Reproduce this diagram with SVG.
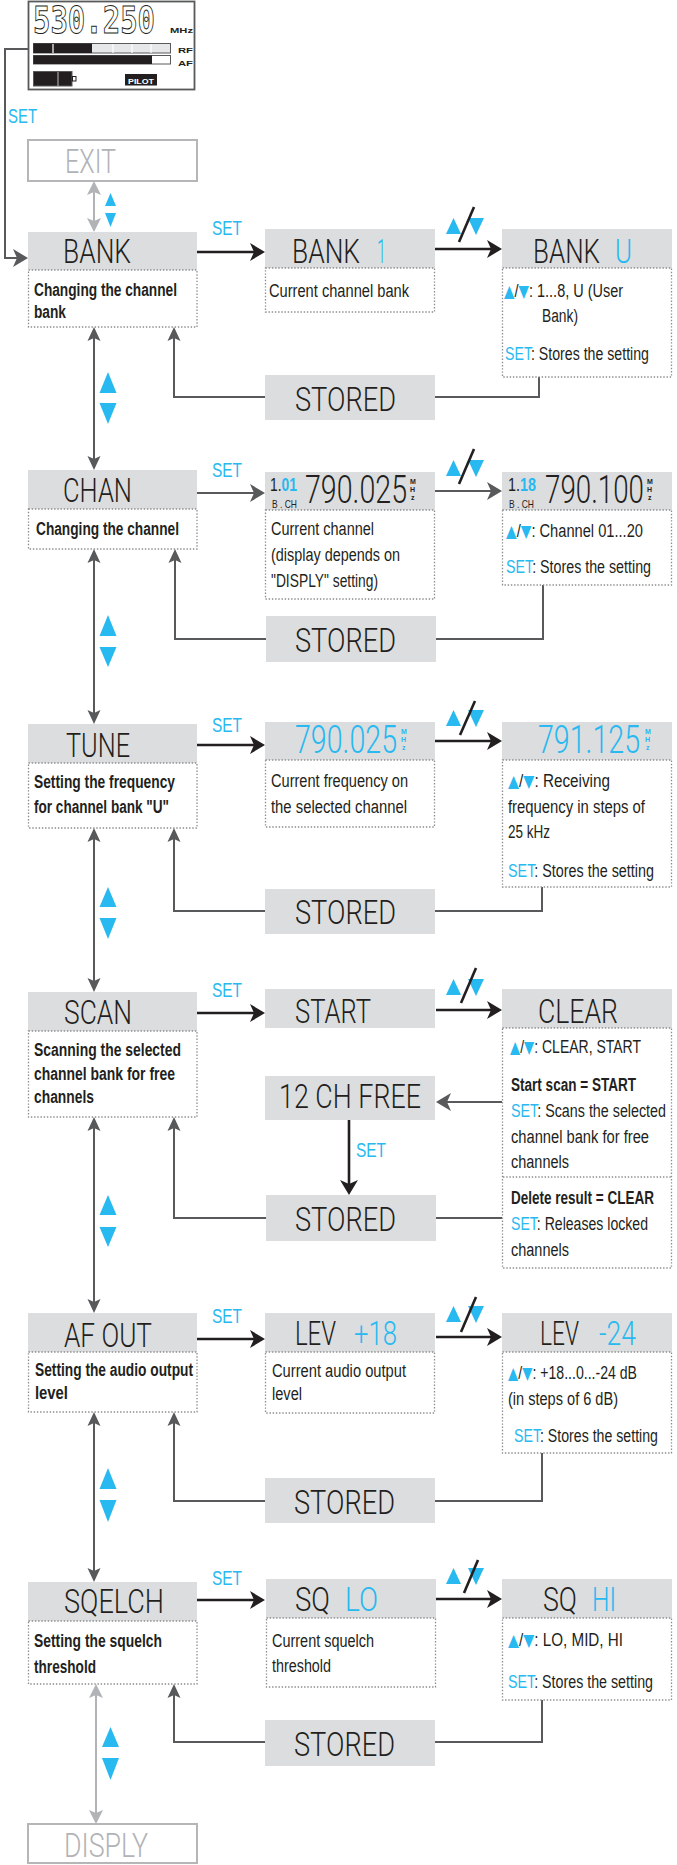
<svg xmlns="http://www.w3.org/2000/svg" width="677" height="1865" viewBox="0 0 677 1865">
<style>
.hdr{fill:#dcdddf}
.out{fill:#fff;stroke:#b5b6b8;stroke-width:2}
.desc{fill:#fff;stroke:#8a8c8e;stroke-width:1.3;stroke-dasharray:1.4 1.8}
.big{font-family:Roboto,'Liberation Sans',Arial,sans-serif;font-weight:300;font-size:34px;fill:#231f20}
.num{font-family:Roboto,'Liberation Sans',Arial,sans-serif;font-weight:300;font-size:39px;fill:#231f20}
.gr{fill:#b1b3b6}
.d{font-family:'Liberation Sans',Arial,sans-serif;font-size:18px;fill:#231f20}
.b{font-weight:bold}
.bl{fill:#27b9f0}
.t{fill:#27b9f0;font-family:'DejaVu Sans',sans-serif;font-size:17px}
.set{font-family:'Liberation Sans',Arial,sans-serif;font-size:20px;fill:#27b9f0}
.tiny{font-family:'Liberation Sans',Arial,sans-serif;font-size:7px;font-weight:bold}
.sm{font-family:'Liberation Sans',Arial,sans-serif;font-size:11px;fill:#231f20}
.con{fill:none;stroke:#58595b;stroke-width:2}
.blk{fill:none;stroke:#231f20;stroke-width:2.6}
.lt{fill:none;stroke:#b1b3b6;stroke-width:2}
.tri{fill:#27b9f0}
</style>
<defs>
<marker id="aBk" viewBox="-14 -10 18 20" markerWidth="18" markerHeight="20" refX="0" refY="0" orient="auto-start-reverse" markerUnits="userSpaceOnUse"><path d="M3,0 L-12,-9 L-8,0 L-12,9 Z" fill="#231f20"/></marker>
<marker id="aBg" viewBox="-14 -10 18 20" markerWidth="18" markerHeight="20" refX="0" refY="0" orient="auto-start-reverse" markerUnits="userSpaceOnUse"><path d="M3,0 L-12,-9 L-8,0 L-12,9 Z" fill="#58595b"/></marker>
<marker id="aSm" viewBox="-14 -8 18 16" markerWidth="18" markerHeight="16" refX="0" refY="0" orient="auto-start-reverse" markerUnits="userSpaceOnUse"><path d="M3,0 L-11,-6.5 L-8,0 L-11,6.5 Z" fill="#58595b"/></marker>
<marker id="aLt" viewBox="-14 -8 18 16" markerWidth="18" markerHeight="16" refX="0" refY="0" orient="auto-start-reverse" markerUnits="userSpaceOnUse"><path d="M3,0 L-11,-7 L-8,0 L-11,7 Z" fill="#b1b3b6"/></marker>
<g id="ud"><polygon points="446,-15 461,-15 453.5,-31"/><polygon points="468,-31 484,-31 476,-14"/></g>
</defs>

<!-- LCD display -->
<g id="lcd">
<rect x="28.5" y="1.5" width="166" height="88" fill="#fff" stroke="#58595b" stroke-width="1.8"/>
<text x="33" y="33" font-family="'DejaVu Sans Mono',monospace" font-weight="bold" font-size="38" fill="#fff" stroke="#231f20" stroke-width="1" textLength="122" lengthAdjust="spacingAndGlyphs">530.250</text>
<text class="tiny" x="170" y="33" font-size="11" fill="#231f20" textLength="23" lengthAdjust="spacingAndGlyphs">MHz</text>
<rect x="33.5" y="43.5" width="137" height="9.5" fill="#e6e7e8" stroke="#58595b" stroke-width="1"/>
<rect x="33.5" y="43.5" width="58.5" height="9.5" fill="#231f20"/>
<path d="M53,44 V53 M113,44 V53 M132,44 V53 M151,44 V53" stroke="#fff" stroke-width="1.2"/>
<text class="tiny" x="178" y="53" font-size="13" fill="#231f20" textLength="15" lengthAdjust="spacingAndGlyphs">RF</text>
<rect x="33.5" y="55.5" width="137" height="8.5" fill="#fff" stroke="#58595b" stroke-width="1"/>
<rect x="33.5" y="55.5" width="118.5" height="8.5" fill="#231f20"/>
<text class="tiny" x="178" y="66" font-size="13" fill="#231f20" textLength="15" lengthAdjust="spacingAndGlyphs">AF</text>
<rect x="33.5" y="71.5" width="38.5" height="14.5" fill="#231f20" stroke="#58595b" stroke-width="1"/>
<path d="M58,72 V86" stroke="#bcbec0" stroke-width="1"/>
<rect x="72.5" y="76.5" width="3.5" height="4.5" fill="#fff" stroke="#231f20" stroke-width="1"/>
<rect x="125" y="74" width="32" height="11.5" fill="#231f20"/>
<text class="tiny" x="128" y="83.5" font-size="9" fill="#fff" textLength="26" lengthAdjust="spacingAndGlyphs">PILOT</text>
</g>

<!-- Connectors -->
<g id="connectors">
<path class="con" d="M28,49 H5 V258 H25" marker-end="url(#aBg)"/>
<text class="set" x="8" y="123" textLength="29" lengthAdjust="spacingAndGlyphs">SET</text>
<path class="lt" d="M94,184 V229" marker-start="url(#aLt)" marker-end="url(#aLt)"/>
<polygon class="tri" points="105,206 116,206 110.5,193"/>
<polygon class="tri" points="105,213 116,213 110.5,227"/>
<path class="con" d="M94,330 V467" marker-start="url(#aSm)" marker-end="url(#aSm)"/>
<polygon class="tri" points="99.5,393 116.5,393 108,372"/>
<polygon class="tri" points="99.5,403 116.5,403 108,424"/>
<path class="con" d="M94,552 V721" marker-start="url(#aSm)" marker-end="url(#aSm)"/>
<polygon class="tri" points="99.5,636 116.5,636 108,615"/>
<polygon class="tri" points="99.5,647 116.5,647 108,667"/>
<path class="con" d="M94,831 V989" marker-start="url(#aSm)" marker-end="url(#aSm)"/>
<polygon class="tri" points="99.5,907 116.5,907 108,887"/>
<polygon class="tri" points="99.5,918 116.5,918 108,939"/>
<path class="con" d="M94,1120 V1310" marker-start="url(#aSm)" marker-end="url(#aSm)"/>
<polygon class="tri" points="99.5,1215 116.5,1215 108,1195"/>
<polygon class="tri" points="99.5,1227 116.5,1227 108,1247"/>
<path class="con" d="M94,1415 V1579" marker-start="url(#aSm)" marker-end="url(#aSm)"/>
<polygon class="tri" points="99.5,1489 116.5,1489 108,1468"/>
<polygon class="tri" points="99.5,1500 116.5,1500 108,1522"/>
<path class="lt" d="M96,1687 V1821" marker-start="url(#aLt)" marker-end="url(#aLt)"/>
<polygon class="tri" points="102,1747 119,1747 110.5,1727"/>
<polygon class="tri" points="102,1758 119,1758 110.5,1780"/>

<!-- SET arrows -->
<path class="blk" d="M197,252 H262" marker-end="url(#aBk)"/>
<text class="set" x="212" y="235" textLength="30" lengthAdjust="spacingAndGlyphs">SET</text>
<path class="con" stroke-width="2.6" d="M197,493 H262" marker-end="url(#aBg)"/>
<text class="set" x="212" y="477" textLength="30" lengthAdjust="spacingAndGlyphs">SET</text>
<path class="blk" d="M197,745 H262" marker-end="url(#aBk)"/>
<text class="set" x="212" y="732" textLength="30" lengthAdjust="spacingAndGlyphs">SET</text>
<path class="blk" d="M197,1013 H262" marker-end="url(#aBk)"/>
<text class="set" x="212" y="997" textLength="30" lengthAdjust="spacingAndGlyphs">SET</text>
<path class="blk" d="M197,1339 H262" marker-end="url(#aBk)"/>
<text class="set" x="212" y="1323" textLength="30" lengthAdjust="spacingAndGlyphs">SET</text>
<path class="blk" d="M197,1600 H262" marker-end="url(#aBk)"/>
<text class="set" x="212" y="1585" textLength="30" lengthAdjust="spacingAndGlyphs">SET</text>

<!-- up/down arrows -->
<path class="blk" d="M435,249 H499" marker-end="url(#aBk)"/>
<use href="#ud" class="tri" transform="translate(0,249)"/>
<path class="blk" stroke-width="2" d="M459,242 L474,207"/>
<path class="con" stroke-width="2.6" d="M435,491 H499" marker-end="url(#aBg)"/>
<use href="#ud" class="tri" transform="translate(0,491)"/>
<path class="blk" stroke-width="2" d="M459,484 L474,449"/>
<path class="blk" d="M435,741 H499" marker-end="url(#aBk)"/>
<use href="#ud" class="tri" transform="translate(0,741)"/>
<path class="blk" stroke-width="2" d="M460,735 L475,701"/>
<path class="blk" d="M436,1010 H499" marker-end="url(#aBk)"/>
<use href="#ud" class="tri" transform="translate(0,1010)"/>
<path class="blk" stroke-width="2" d="M461,1003 L476,968"/>
<path class="blk" d="M436,1337 H499" marker-end="url(#aBk)"/>
<use href="#ud" class="tri" transform="translate(0,1337)"/>
<path class="blk" stroke-width="2" d="M461,1332 L476,1297"/>
<path class="blk" d="M436,1599 H499" marker-end="url(#aBk)"/>
<use href="#ud" class="tri" transform="translate(0,1599)"/>
<path class="blk" stroke-width="2" d="M464,1593 L478,1560"/>

<!-- return loops -->
<path class="con" d="M539,377 V397 H435 M265,397 H174 V330" marker-end="url(#aSm)"/>
<path class="con" d="M543,585 V639 H436 M266,639 H175 V552" marker-end="url(#aSm)"/>
<path class="con" d="M542,887 V911 H435 M265,911 H174 V831" marker-end="url(#aSm)"/>
<path class="con" d="M502,1218 H436 M266,1218 H174 V1120" marker-end="url(#aSm)"/>
<path class="con" d="M542,1453 V1501 H435 M265,1501 H174 V1415" marker-end="url(#aSm)"/>
<path class="con" d="M542,1700 V1742 H435 M265,1742 H174 V1687" marker-end="url(#aSm)"/>

<!-- scan extras -->
<path class="con" stroke="#6d6e71" d="M502,1102 H439" marker-end="url(#aBg)"/>
<path class="blk" d="M349,1120 V1192" marker-end="url(#aBk)"/>
<text class="set" x="356" y="1157" textLength="30" lengthAdjust="spacingAndGlyphs">SET</text>
</g>

<!-- EXIT -->
<g id="exit">
<rect class="out" x="28" y="140" width="169" height="41"/>
<text class="big gr" x="65" y="173" textLength="51" lengthAdjust="spacingAndGlyphs">EXIT</text>
</g>

<!-- BANK row -->
<g id="bank">
<rect class="hdr" x="28" y="232" width="169" height="38"/>
<rect class="desc" x="28.5" y="270" width="168.5" height="57"/>
<text class="big" x="63" y="263" textLength="68" lengthAdjust="spacingAndGlyphs">BANK</text>
<text class="d b" x="34" y="296" textLength="143" lengthAdjust="spacingAndGlyphs">Changing the channel</text>
<text class="d b" x="34" y="318" textLength="32" lengthAdjust="spacingAndGlyphs">bank</text>
</g>
<g id="bank1">
<rect class="hdr" x="265" y="229" width="170" height="39"/>
<rect class="desc" x="265.5" y="268" width="169" height="44"/>
<text class="big" y="263"><tspan x="292" textLength="68" lengthAdjust="spacingAndGlyphs">BANK</tspan><tspan class="bl" x="377" textLength="9" lengthAdjust="spacingAndGlyphs">1</tspan></text>
<text class="d" x="269" y="297" textLength="140" lengthAdjust="spacingAndGlyphs">Current channel bank</text>
</g>
<g id="bankU">
<rect class="hdr" x="502" y="229" width="170" height="39"/>
<rect class="desc" x="502.5" y="268" width="169" height="109"/>
<text class="big" y="263"><tspan x="533" textLength="67" lengthAdjust="spacingAndGlyphs">BANK</tspan><tspan class="bl" x="615" textLength="17" lengthAdjust="spacingAndGlyphs">U</tspan></text>
<text class="d" x="504" y="297" textLength="119" lengthAdjust="spacingAndGlyphs"><tspan class="t">▲</tspan>/<tspan class="t">▼</tspan>: 1...8, U (User</text>
<text class="d" x="542" y="322" textLength="36" lengthAdjust="spacingAndGlyphs">Bank)</text>
<text class="d" x="505" y="360" textLength="144" lengthAdjust="spacingAndGlyphs"><tspan class="bl">SET</tspan>: Stores the setting</text>
</g>
<g id="stored1">
<rect class="hdr" x="265" y="375" width="170" height="45"/>
<text class="big" x="295" y="411" textLength="101" lengthAdjust="spacingAndGlyphs">STORED</text>
</g>

<!-- CHAN row -->
<g id="chan">
<rect class="hdr" x="28" y="470" width="169" height="39"/>
<rect class="desc" x="28.5" y="509" width="168.5" height="40"/>
<text class="big" x="63" y="502" textLength="69" lengthAdjust="spacingAndGlyphs">CHAN</text>
<text class="d b" x="36" y="535" textLength="143" lengthAdjust="spacingAndGlyphs">Changing the channel</text>
</g>
<g id="chan1">
<rect class="hdr" x="265" y="472" width="170" height="38"/>
<rect class="desc" x="265.5" y="510" width="169" height="89"/>
<text class="d" x="270" y="491" font-size="20" textLength="27" lengthAdjust="spacingAndGlyphs">1.<tspan class="bl b">01</tspan></text>
<text class="sm" x="272" y="508" textLength="25" lengthAdjust="spacingAndGlyphs">B . CH</text>
<text class="num" x="305" y="503" textLength="102" lengthAdjust="spacingAndGlyphs">790.025</text>
<text class="tiny" x="410" y="484" fill="#231f20">M<tspan x="410" dy="8">H</tspan><tspan x="411" dy="8">z</tspan></text>
<text class="d" x="271" y="535" textLength="103" lengthAdjust="spacingAndGlyphs">Current channel</text>
<text class="d" x="271" y="561" textLength="129" lengthAdjust="spacingAndGlyphs">(display depends on</text>
<text class="d" x="271" y="587" textLength="107" lengthAdjust="spacingAndGlyphs">"DISPLY" setting)</text>
</g>
<g id="chan2">
<rect class="hdr" x="502" y="472" width="170" height="38"/>
<rect class="desc" x="502.5" y="510" width="169" height="75"/>
<text class="d" x="508" y="491" font-size="20" textLength="28" lengthAdjust="spacingAndGlyphs">1.<tspan class="bl b">18</tspan></text>
<text class="sm" x="509" y="508" textLength="25" lengthAdjust="spacingAndGlyphs">B . CH</text>
<text class="num" x="545" y="503" textLength="99" lengthAdjust="spacingAndGlyphs">790.100</text>
<text class="tiny" x="647" y="484" fill="#231f20">M<tspan x="647" dy="8">H</tspan><tspan x="648" dy="8">z</tspan></text>
<text class="d" x="506" y="537" textLength="137" lengthAdjust="spacingAndGlyphs"><tspan class="t">▲</tspan>/<tspan class="t">▼</tspan>: Channel  01...20</text>
<text class="d" x="506" y="573" textLength="145" lengthAdjust="spacingAndGlyphs"><tspan class="bl">SET</tspan>: Stores the setting</text>
</g>
<g id="stored2">
<rect class="hdr" x="266" y="616" width="170" height="46"/>
<text class="big" x="295" y="652" textLength="101" lengthAdjust="spacingAndGlyphs">STORED</text>
</g>

<!-- TUNE row -->
<g id="tune">
<rect class="hdr" x="28" y="724" width="169" height="39"/>
<rect class="desc" x="28.5" y="763" width="168.5" height="65"/>
<text class="big" x="66" y="757" textLength="64" lengthAdjust="spacingAndGlyphs">TUNE</text>
<text class="d b" x="34" y="788" textLength="141" lengthAdjust="spacingAndGlyphs">Setting the frequency</text>
<text class="d b" x="34" y="813" textLength="135" lengthAdjust="spacingAndGlyphs">for channel bank "U"</text>
</g>
<g id="tune1">
<rect class="hdr" x="265" y="722" width="170" height="38"/>
<rect class="desc" x="265.5" y="760" width="169" height="67"/>
<text class="num bl" x="295" y="753" textLength="102" lengthAdjust="spacingAndGlyphs">790.025</text>
<text class="tiny bl" x="401" y="734">M<tspan x="401" dy="8">H</tspan><tspan x="402" dy="8">z</tspan></text>
<text class="d" x="271" y="787" textLength="137" lengthAdjust="spacingAndGlyphs">Current frequency on</text>
<text class="d" x="271" y="813" textLength="136" lengthAdjust="spacingAndGlyphs">the selected channel</text>
</g>
<g id="tune2">
<rect class="hdr" x="502" y="722" width="170" height="38"/>
<rect class="desc" x="502.5" y="760" width="169" height="127"/>
<text class="num bl" x="538" y="753" textLength="102" lengthAdjust="spacingAndGlyphs">791.125</text>
<text class="tiny bl" x="645" y="734">M<tspan x="645" dy="8">H</tspan><tspan x="646" dy="8">z</tspan></text>
<text class="d" x="508" y="787" textLength="102" lengthAdjust="spacingAndGlyphs"><tspan class="t">▲</tspan>/<tspan class="t">▼</tspan>: Receiving</text>
<text class="d" x="508" y="813" textLength="137" lengthAdjust="spacingAndGlyphs">frequency in steps of</text>
<text class="d" x="508" y="838" textLength="42" lengthAdjust="spacingAndGlyphs">25 kHz</text>
<text class="d" x="508" y="877" textLength="146" lengthAdjust="spacingAndGlyphs"><tspan class="bl">SET</tspan>: Stores the setting</text>
</g>
<g id="stored3">
<rect class="hdr" x="265" y="889" width="170" height="45"/>
<text class="big" x="295" y="924" textLength="101" lengthAdjust="spacingAndGlyphs">STORED</text>
</g>

<!-- SCAN row -->
<g id="scan">
<rect class="hdr" x="28" y="992" width="169" height="39"/>
<rect class="desc" x="28.5" y="1031" width="168.5" height="86"/>
<text class="big" x="64" y="1024" textLength="68" lengthAdjust="spacingAndGlyphs">SCAN</text>
<text class="d b" x="34" y="1056" textLength="147" lengthAdjust="spacingAndGlyphs">Scanning the selected</text>
<text class="d b" x="34" y="1080" textLength="141" lengthAdjust="spacingAndGlyphs">channel bank for free</text>
<text class="d b" x="34" y="1103" textLength="60" lengthAdjust="spacingAndGlyphs">channels</text>
</g>
<g id="start">
<rect class="hdr" x="265" y="989" width="170" height="39"/>
<text class="big" x="295" y="1023" textLength="76" lengthAdjust="spacingAndGlyphs">START</text>
</g>
<g id="clear">
<rect class="hdr" x="502" y="989" width="170" height="39"/>
<rect class="desc" x="502.5" y="1028" width="169" height="240"/>
<path d="M503,1177 H671" stroke="#8a8c8e" stroke-width="1.3" stroke-dasharray="1.4 1.8"/>
<text class="big" x="538" y="1023" textLength="80" lengthAdjust="spacingAndGlyphs">CLEAR</text>
<text class="d" x="510" y="1053" textLength="131" lengthAdjust="spacingAndGlyphs"><tspan class="t">▲</tspan>/<tspan class="t">▼</tspan>: CLEAR, START</text>
<text class="d b" x="511" y="1091" textLength="125" lengthAdjust="spacingAndGlyphs">Start scan = START</text>
<text class="d" x="511" y="1117" textLength="155" lengthAdjust="spacingAndGlyphs"><tspan class="bl">SET</tspan>: Scans the selected</text>
<text class="d" x="511" y="1143" textLength="138" lengthAdjust="spacingAndGlyphs">channel bank for free</text>
<text class="d" x="511" y="1168" textLength="58" lengthAdjust="spacingAndGlyphs">channels</text>
<text class="d b" x="511" y="1204" textLength="143" lengthAdjust="spacingAndGlyphs">Delete result = CLEAR</text>
<text class="d" x="511" y="1230" textLength="137" lengthAdjust="spacingAndGlyphs"><tspan class="bl">SET</tspan>: Releases locked</text>
<text class="d" x="511" y="1256" textLength="58" lengthAdjust="spacingAndGlyphs">channels</text>
</g>
<g id="free">
<rect class="hdr" x="265" y="1076" width="170" height="44"/>
<text class="big" x="279" y="1108" textLength="142" lengthAdjust="spacingAndGlyphs">12 CH FREE</text>
</g>
<g id="stored4">
<rect class="hdr" x="266" y="1195" width="170" height="46"/>
<text class="big" x="295" y="1231" textLength="101" lengthAdjust="spacingAndGlyphs">STORED</text>
</g>

<!-- AF OUT row -->
<g id="afout">
<rect class="hdr" x="28" y="1313" width="169" height="39"/>
<rect class="desc" x="28.5" y="1352" width="168.5" height="60"/>
<text class="big" x="64" y="1347" textLength="88" lengthAdjust="spacingAndGlyphs">AF OUT</text>
<text class="d b" x="35" y="1376" textLength="158" lengthAdjust="spacingAndGlyphs">Setting the audio output</text>
<text class="d b" x="35" y="1399" textLength="33" lengthAdjust="spacingAndGlyphs">level</text>
</g>
<g id="lev1">
<rect class="hdr" x="265" y="1313" width="170" height="39"/>
<rect class="desc" x="265.5" y="1352" width="169" height="61"/>
<text class="big" y="1345"><tspan x="295" textLength="41" lengthAdjust="spacingAndGlyphs">LEV</tspan><tspan class="bl" x="354" textLength="43" lengthAdjust="spacingAndGlyphs">+18</tspan></text>
<text class="d" x="272" y="1377" textLength="134" lengthAdjust="spacingAndGlyphs">Current audio output</text>
<text class="d" x="272" y="1400" textLength="30" lengthAdjust="spacingAndGlyphs">level</text>
</g>
<g id="lev2">
<rect class="hdr" x="502" y="1313" width="170" height="39"/>
<rect class="desc" x="502.5" y="1352" width="169" height="101"/>
<text class="big" y="1345"><tspan x="540" textLength="39" lengthAdjust="spacingAndGlyphs">LEV</tspan><tspan class="bl" x="599" textLength="37" lengthAdjust="spacingAndGlyphs">-24</tspan></text>
<text class="d" x="508" y="1379" textLength="129" lengthAdjust="spacingAndGlyphs"><tspan class="t">▲</tspan>/<tspan class="t">▼</tspan>: +18...0...-24 dB</text>
<text class="d" x="508" y="1405" textLength="110" lengthAdjust="spacingAndGlyphs">(in steps of 6 dB)</text>
<text class="d" x="514" y="1442" textLength="144" lengthAdjust="spacingAndGlyphs"><tspan class="bl">SET</tspan>: Stores the setting</text>
</g>
<g id="stored5">
<rect class="hdr" x="265" y="1478" width="170" height="45"/>
<text class="big" x="294" y="1514" textLength="101" lengthAdjust="spacingAndGlyphs">STORED</text>
</g>

<!-- SQELCH row -->
<g id="sqelch">
<rect class="hdr" x="28" y="1582" width="169" height="39"/>
<rect class="desc" x="28.5" y="1621" width="168.5" height="63"/>
<text class="big" x="64" y="1613" textLength="100" lengthAdjust="spacingAndGlyphs">SQELCH</text>
<text class="d b" x="34" y="1647" textLength="128" lengthAdjust="spacingAndGlyphs">Setting the squelch</text>
<text class="d b" x="34" y="1673" textLength="62" lengthAdjust="spacingAndGlyphs">threshold</text>
</g>
<g id="sqlo">
<rect class="hdr" x="266" y="1579" width="170" height="39"/>
<rect class="desc" x="266.5" y="1618" width="169" height="69"/>
<text class="big" y="1611"><tspan x="295" textLength="35" lengthAdjust="spacingAndGlyphs">SQ</tspan><tspan class="bl" x="345" textLength="33" lengthAdjust="spacingAndGlyphs">LO</tspan></text>
<text class="d" x="272" y="1647" textLength="102" lengthAdjust="spacingAndGlyphs">Current squelch</text>
<text class="d" x="272" y="1672" textLength="59" lengthAdjust="spacingAndGlyphs">threshold</text>
</g>
<g id="sqhi">
<rect class="hdr" x="502" y="1579" width="170" height="39"/>
<rect class="desc" x="502.5" y="1618" width="169" height="82"/>
<text class="big" y="1611"><tspan x="543" textLength="34" lengthAdjust="spacingAndGlyphs">SQ</tspan><tspan class="bl" x="592" textLength="24" lengthAdjust="spacingAndGlyphs">HI</tspan></text>
<text class="d" x="508" y="1646" textLength="115" lengthAdjust="spacingAndGlyphs"><tspan class="t">▲</tspan>/<tspan class="t">▼</tspan>:  LO, MID, HI</text>
<text class="d" x="508" y="1688" textLength="145" lengthAdjust="spacingAndGlyphs"><tspan class="bl">SET</tspan>: Stores the setting</text>
</g>
<g id="stored6">
<rect class="hdr" x="265" y="1720" width="170" height="46"/>
<text class="big" x="294" y="1756" textLength="101" lengthAdjust="spacingAndGlyphs">STORED</text>
</g>

<!-- DISPLY -->
<g id="disply">
<rect class="out" x="28" y="1824" width="169" height="39"/>
<text class="big gr" x="64" y="1857" textLength="84" lengthAdjust="spacingAndGlyphs">DISPLY</text>
</g>
</svg>
